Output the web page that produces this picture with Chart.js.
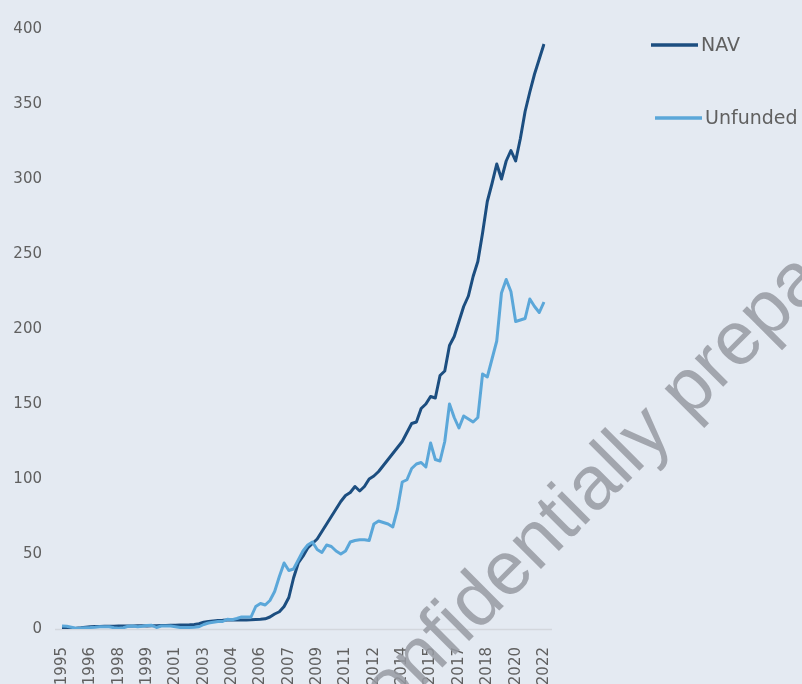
<!DOCTYPE html>
<html>
<head>
<meta charset="utf-8">
<title>NAV vs Unfunded</title>
<script src="https://cdn.jsdelivr.net/npm/chart.js@4.4.1/dist/chart.umd.min.js"></script>
<style>
  html, body { margin: 0; padding: 0; background: #e4eaf2; }
  #wrap { position: relative; width: 802px; height: 684px; overflow: hidden; }
</style>
</head>
<body>
<div id="wrap"><canvas id="navChart"></canvas></div>
<script>
// --- data (quarterly, one label every 6 periods) ---
const tickYears = ['1995', '1996', '1998', '1999', '2001', '2003', '2004', '2006', '2007',
                   '2009', '2011', '2012', '2014', '2015', '2017', '2018', '2020', '2022'];
const tickEvery = 6;

const navValues = [
  0.5, 0.5, 0.3, 0.5, 0.8, 1.2, 1.5, 1.6, 1.7, 1.8,
  1.8, 1.9, 2.0, 2.0, 2.0, 2.0, 2.1, 2.1, 2.0, 2.1,
  2.2, 2.3, 2.4, 2.5, 2.5, 2.6, 2.7, 2.8, 3.0, 3.5,
  4.5, 5.0, 5.4, 5.7, 5.8, 6.0, 6.0, 6.0, 6.0, 6.0,
  6.1, 6.3, 6.5, 6.8, 8, 10, 11.5, 15, 21, 34,
  44, 48.5, 54, 57, 60, 65, 70, 75, 80, 85,
  89, 91, 95, 92, 95, 100, 102, 105, 109, 113,
  117, 121, 125, 131, 137, 138, 147, 150, 155, 154,
  169, 172, 189, 195, 205, 215, 222, 235, 245, 264,
  285, 297, 310, 300, 312, 319, 312, 327, 345, 358,
  370, 380, 390
];

const unfundedValues = [
  2.0, 1.8, 1.2, 0.5, 0.6, 0.9, 1.0, 1.2, 1.5, 1.5,
  1.5, 0.8, 0.5, 0.8, 1.8, 2.0, 1.5, 1.8, 2.3, 2.5,
  1.0, 2.0, 2.0, 2.0, 1.5, 1.0, 1.0, 1.0, 1.2, 1.5,
  3.0, 4.0, 4.5, 5.0, 5.0, 6.5, 6.2, 7.0, 8.0, 8.0,
  8.0, 15, 17, 16, 19, 25, 35, 44, 39, 40,
  46, 52, 56, 58, 53, 51, 56, 55, 52, 50,
  52, 58, 59, 59.5, 59.5, 59, 70, 72, 71, 70,
  68, 80, 98, 99.5, 107, 110, 111, 108, 124, 113,
  112, 125, 150, 141, 134, 142, 140, 138, 141, 170,
  168, 180, 192, 224, 233, 225, 205, 206, 207, 220,
  215, 211, 218
];

const periodLabels = navValues.map((_, i) => (i % tickEvery === 0 ? tickYears[i / tickEvery] : ''));

const NAV_COLOR = '#1c4e80';
const UNFUNDED_COLOR = '#5ba7d9';
const TICK_COLOR = '#606060';
const TICK_FONT = { family: 'DejaVu Sans', size: 15 };

// zero baseline, a little wider than the plot area
const zeroLine = {
  id: 'zeroLine',
  beforeDatasetsDraw(chart) {
    const { ctx, chartArea, scales } = chart;
    const y = Math.round(scales.y.getPixelForValue(0)) + 0.5;
    ctx.save();
    ctx.strokeStyle = '#d3d7dd';
    ctx.lineWidth = 1.5;
    ctx.beginPath();
    ctx.moveTo(chartArea.left - 7, y);
    ctx.lineTo(chartArea.right + 8, y);
    ctx.stroke();
    ctx.restore();
  }
};

// legend on the right, one entry per dataset
const sideLegend = {
  id: 'sideLegend',
  afterDraw(chart) {
    const { ctx } = chart;
    const slots = [{ x: 651, y: 45 }, { x: 655, y: 118 }];
    ctx.save();
    chart.data.datasets.forEach((ds, i) => {
      const s = slots[i];
      ctx.strokeStyle = ds.borderColor;
      ctx.lineWidth = 3.5;
      ctx.beginPath();
      ctx.moveTo(s.x, s.y);
      ctx.lineTo(s.x + 47, s.y);
      ctx.stroke();
      ctx.fillStyle = TICK_COLOR;
      ctx.font = '19px "DejaVu Sans"';
      ctx.textBaseline = 'middle';
      ctx.fillText(ds.label, s.x + 50, s.y + 1);
    });
    ctx.restore();
  }
};

// diagonal watermark across the page
const watermark = {
  id: 'watermark',
  afterDraw(chart) {
    const { ctx } = chart;
    ctx.save();
    ctx.translate(352, 758);
    ctx.rotate(-45 * Math.PI / 180);
    ctx.fillStyle = 'rgba(150,154,162,0.85)';
    ctx.font = '76px "Liberation Sans"';
    ctx.textBaseline = 'alphabetic';
    ctx.fillText('Confidentially prepared for', 0, 0);
    ctx.restore();
  }
};

new Chart(document.getElementById('navChart'), {
  type: 'line',
  data: {
    labels: periodLabels,
    datasets: [
      { label: 'NAV', data: navValues, borderColor: NAV_COLOR, backgroundColor: NAV_COLOR,
        borderWidth: 3, pointRadius: 0, tension: 0, borderJoinStyle: 'round', order: 1 },
      { label: 'Unfunded', data: unfundedValues, borderColor: UNFUNDED_COLOR, backgroundColor: UNFUNDED_COLOR,
        borderWidth: 3, pointRadius: 0, tension: 0, borderJoinStyle: 'round', order: 0 }
    ]
  },
  options: {
    responsive: true,
    maintainAspectRatio: false,
    animation: false,
    layout: { padding: { top: 18, right: 258, left: 0, bottom: 0 } },
    plugins: { legend: { display: false }, tooltip: { enabled: false } },
    scales: {
      x: {
        type: 'category',
        offset: false,
        grid: { display: false },
        border: { display: false },
        afterFit(scale) { scale.height = 55; },
        ticks: {
          autoSkip: false,
          minRotation: 90,
          maxRotation: 90,
          padding: 10,
          color: TICK_COLOR,
          font: TICK_FONT
        }
      },
      y: {
        min: 0,
        max: 400,
        grid: { display: false, drawTicks: false },
        border: { display: false },
        afterFit(scale) { scale.width = 62; },
        ticks: {
          stepSize: 50,
          padding: 20,
          color: TICK_COLOR,
          font: TICK_FONT
        }
      }
    }
  },
  plugins: [zeroLine, sideLegend, watermark]
});
</script>
</body>
</html>
